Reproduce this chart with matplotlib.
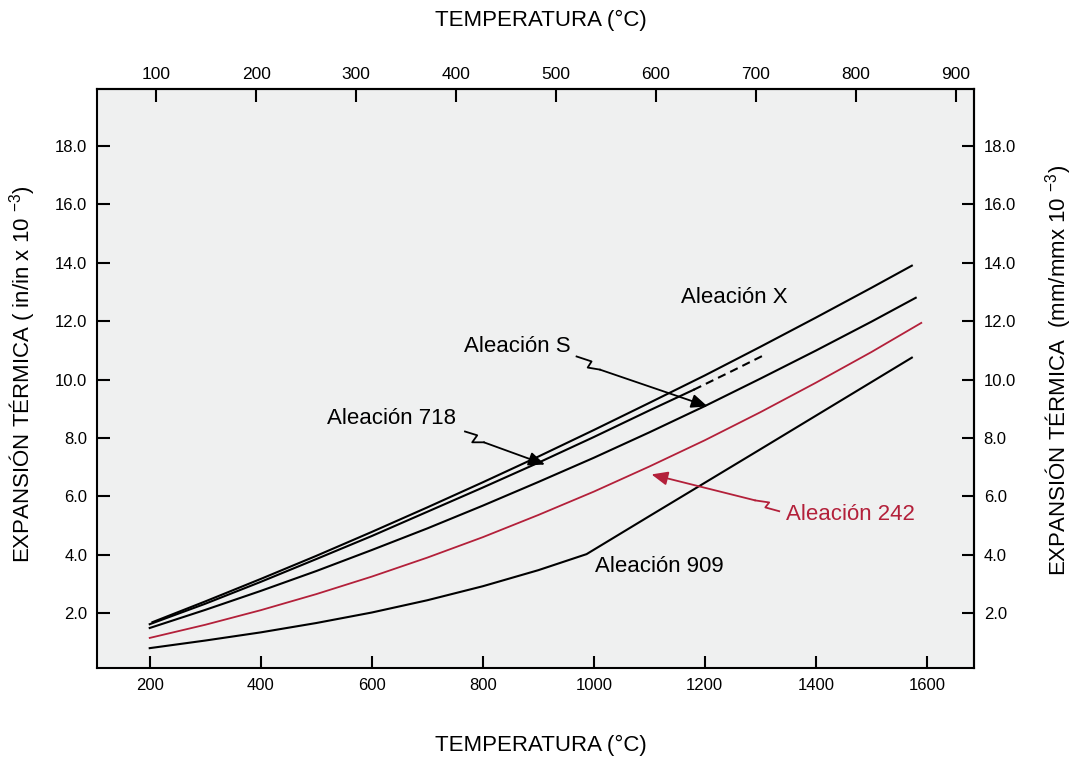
import matplotlib
matplotlib.use('Agg')
import matplotlib.pyplot as plt

plt.rcParams['font.family'] = ['Liberation Sans', 'DejaVu Sans']
plt.rcParams['mathtext.default'] = 'regular'

# curvas (temperatura °F, expansión in/in x 1e-3)
t_x = [205, 300, 400, 500, 600, 700, 800, 900, 1000, 1100, 1200, 1300, 1400, 1500, 1573]
e_x = [1.69, 2.40, 3.17, 3.96, 4.78, 5.62, 6.48, 7.36, 8.27, 9.20, 10.14, 11.12, 12.12, 13.14, 13.90]

t_718 = [200, 300, 400, 500, 600, 700, 800, 900, 1000, 1100, 1180]
e_718 = [1.62, 2.32, 3.07, 3.85, 4.64, 5.47, 6.30, 7.15, 8.03, 8.94, 9.65]
t_718d = [1180, 1250, 1305]
e_718d = [9.65, 10.30, 10.82]

t_s = [200, 300, 400, 500, 600, 700, 800, 900, 1000, 1100, 1200, 1300, 1400, 1500, 1580]
e_s = [1.49, 2.11, 2.76, 3.44, 4.16, 4.90, 5.68, 6.49, 7.32, 8.19, 9.09, 10.03, 10.99, 11.98, 12.80]

t_242 = [200, 300, 400, 500, 600, 700, 800, 900, 1000, 1100, 1200, 1300, 1400, 1500, 1590]
e_242 = [1.15, 1.60, 2.10, 2.65, 3.25, 3.90, 4.60, 5.36, 6.16, 7.02, 7.92, 8.88, 9.89, 10.94, 11.94]

t_909 = [200, 300, 400, 500, 600, 700, 800, 900, 987, 1100, 1190, 1300, 1400, 1500, 1573]
e_909 = [0.80, 1.06, 1.34, 1.66, 2.02, 2.44, 2.92, 3.47, 4.02, 5.32, 6.35, 7.61, 8.76, 9.91, 10.75]

xticks_f = [200, 400, 600, 800, 1000, 1200, 1400, 1600]
xticks_c = [100, 200, 300, 400, 500, 600, 700, 800, 900]
yticks = [2, 4, 6, 8, 10, 12, 14, 16, 18]

RED = '#b3203a'

# etiquetas: texto, posición, zigzag, punta de flecha
labels = [
    ('Aleación X', (1253, 12.80), None, None, 'black'),
    ('Aleación S', (863, 11.13),
     [(969, 10.79), (996, 10.62), (989, 10.41), (1011, 10.34)], (1205, 9.08), 'black'),
    ('Aleación 718', (635, 8.67),
     [(768, 8.22), (790, 8.09), (781, 7.85), (802, 7.85)], (912, 7.09), 'black'),
    ('Aleación 242', (1463, 5.38),
     [(1334, 5.49), (1309, 5.62), (1316, 5.79), (1291, 5.86)], (1104, 6.75), RED),
    ('Aleación 909', (1118, 3.61), None, None, 'black'),
]


def f2c(f):
    return (f - 32) / 1.8


def c2f(c):
    return c * 1.8 + 32


def draw():
    fig = plt.figure(figsize=(10.74, 7.59), dpi=100)
    ax = fig.add_axes([0.0903, 0.1199, 0.8166, 0.7628])
    ax.set_facecolor('#eff0f0')

    ax.plot(t_x, e_x, color='black', lw=1.5)
    ax.plot(t_718, e_718, color='black', lw=1.5)
    ax.plot(t_718d, e_718d, color='black', lw=1.5, dashes=(4, 2.5))
    ax.plot(t_s, e_s, color='black', lw=1.5)
    ax.plot(t_242, e_242, color=RED, lw=1.3)
    ax.plot(t_909, e_909, color='black', lw=1.5)

    for text, pos, zig, tip, col in labels:
        ax.text(pos[0], pos[1], text, color=col, fontsize=16,
                ha='center', va='center')
        if zig is None:
            continue
        ax.plot([p[0] for p in zig], [p[1] for p in zig], color=col, lw=1.3)
        ax.annotate('', xy=tip, xytext=zig[-1],
                    arrowprops=dict(arrowstyle='-|>,head_length=0.7,head_width=0.3',
                                    color=col, lw=1.3, mutation_scale=14,
                                    shrinkA=0, shrinkB=0))

    ax.set_xlim(105, 1685)
    ax.set_ylim(0.12, 19.95)
    ax.set_xticks(xticks_f)
    ax.set_yticks(yticks)
    ax.set_yticklabels(['%.1f' % v for v in yticks])
    ax.tick_params(direction='in', length=9, width=1.5, labelsize=12, pad=7)
    for s in ax.spines.values():
        s.set_linewidth(1.5)

    top = ax.secondary_xaxis('top', functions=(f2c, c2f))
    top.set_xticks(xticks_c)
    top.tick_params(direction='in', length=9, width=1.5, labelsize=12.5, pad=5)
    top.spines['top'].set_linewidth(1.5)

    right = ax.secondary_yaxis('right')
    right.set_yticks(yticks)
    right.set_yticklabels(['%.1f' % v for v in yticks])
    right.tick_params(direction='in', length=9, width=1.5, labelsize=12, pad=7)
    right.spines['right'].set_linewidth(1.5)

    fig.text(0.504, 0.973, 'TEMPERATURA (°C)', fontsize=16, ha='center', va='center')
    fig.text(0.504, 0.018, 'TEMPERATURA (°C)', fontsize=16, ha='center', va='center')
    fig.text(0.021, 0.507, 'EXPANSIÓN TÉRMICA ( in/in x 10 $^{-3}$)', fontsize=16,
             rotation=90, ha='center', va='center')
    fig.text(0.985, 0.512, 'EXPANSIÓN TÉRMICA  (mm/mmx 10 $^{-3}$)', fontsize=16,
             rotation=90, ha='center', va='center')

    fig.savefig('out.png', dpi=100)


if __name__ == '__main__':
    draw()
